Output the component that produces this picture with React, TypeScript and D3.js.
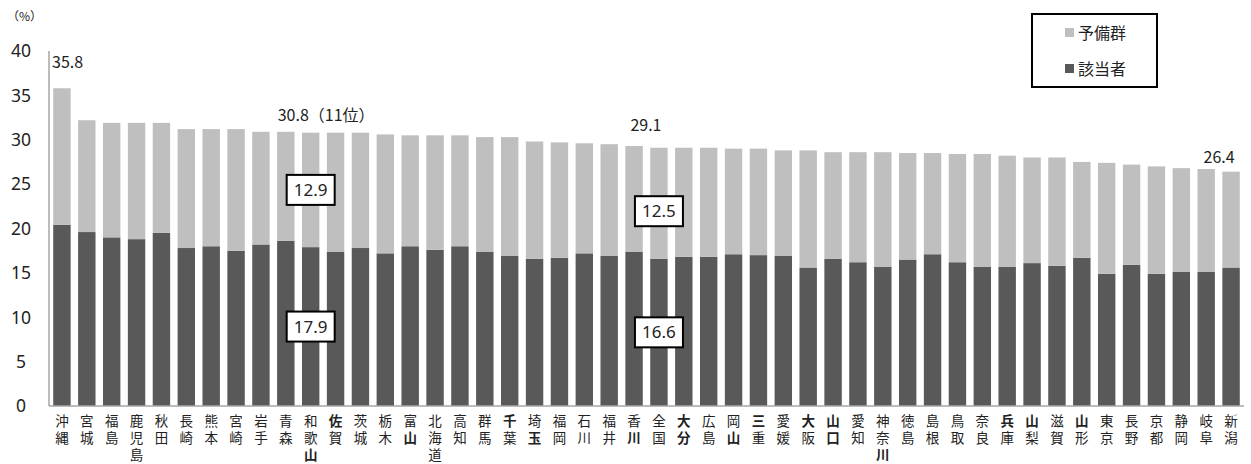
import React from "react";
import * as d3 from "d3";

const categories = [
  "沖縄", "宮城", "福島", "鹿児島", "秋田", "長崎", "熊本", "宮崎", "岩手", "青森",
  "和歌山", "佐賀", "茨城", "栃木", "富山", "北海道", "高知", "群馬", "千葉", "埼玉",
  "福岡", "石川", "福井", "香川", "全国", "大分", "広島", "岡山", "三重", "愛媛",
  "大阪", "山口", "愛知", "神奈川", "徳島", "島根", "鳥取", "奈良", "兵庫", "山梨",
  "滋賀", "山形", "東京", "長野", "京都", "静岡", "岐阜", "新潟",
];

// 該当者 (%)
const gaitousha = [
  20.4, 19.6, 19.0, 18.8, 19.5, 17.8, 18.0, 17.5, 18.2, 18.6,
  17.9, 17.4, 17.8, 17.2, 18.0, 17.6, 18.0, 17.4, 16.9, 16.6,
  16.7, 17.2, 16.9, 17.4, 16.6, 16.8, 16.8, 17.1, 17.0, 16.9,
  15.6, 16.6, 16.2, 15.7, 16.5, 17.1, 16.2, 15.7, 15.7, 16.1,
  15.8, 16.7, 14.9, 15.9, 14.9, 15.1, 15.1, 15.6,
];

// 予備群 (%)
const yobigun = [
  15.4, 12.6, 12.9, 13.1, 12.4, 13.4, 13.2, 13.7, 12.7, 12.3,
  12.9, 13.4, 13.0, 13.4, 12.5, 12.9, 12.5, 12.9, 13.4, 13.2,
  13.0, 12.4, 12.6, 11.9, 12.5, 12.3, 12.3, 11.9, 12.0, 11.9,
  13.2, 12.0, 12.4, 12.9, 12.0, 11.4, 12.2, 12.7, 12.5, 11.9,
  12.2, 10.8, 12.5, 11.3, 12.1, 11.7, 11.6, 10.8,
];

const yTicks = [0, 5, 10, 15, 20, 25, 30, 35, 40];

const seriesNames = ["予備群", "該当者"];

// total labels shown above bars
const topLabels = [
  { cat: "沖縄", text: "35.8" },
  { cat: "和歌山", text: "30.8（11位）" },
  { cat: "全国", text: "29.1" },
  { cat: "新潟", text: "26.4" },
];

// boxed segment labels
const boxCats = ["和歌山", "全国"];

// characters rendered heavier in the original axis labels
const boldChars: Record<string, number[]> = {
  "和歌山": [2], "佐賀": [0], "富山": [1], "千葉": [0], "埼玉": [1], "香川": [1],
  "大分": [0, 1], "岡山": [1], "三重": [0], "大阪": [0], "山口": [0, 1],
  "神奈川": [2], "兵庫": [0], "山梨": [0], "山形": [0],
};

const LIGHT = "#bfbfbf";
const DARK = "#595959";
const AXIS = "#a6a6a6";
const FONT = "'Noto Sans CJK JP', 'Noto Sans', sans-serif";
const NUMFONT = "'Noto Sans', 'Noto Sans CJK JP', sans-serif";

export default function App() {
  const W = 1251, H = 464;
  const x = d3.scaleBand<string>().domain(categories).range([49, 1244]).paddingInner(0.3).paddingOuter(0.17);
  const y = d3.scaleLinear().domain([0, 40]).range([406, 51]);
  const bw = x.bandwidth();

  const stacked = d3.stack<number>()
    .keys(["g", "y"])
    .value((i, k) => (k === "g" ? gaitousha[i] : yobigun[i]))(d3.range(categories.length));

  const idx = (c: string) => categories.indexOf(c);
  const cx = (c: string) => (x(c) as number) + bw / 2;

  return (
    <svg width={W} height={H} style={{ position: "absolute", left: 0, top: 0, background: "#fff" }} fontFamily={FONT}>
      {/* bars */}
      {stacked[0].map((d, i) => (
        <rect key={"g" + i} x={x(categories[i])} y={y(d[1])} width={bw} height={y(d[0]) - y(d[1])} fill={DARK} />
      ))}
      {stacked[1].map((d, i) => (
        <rect key={"y" + i} x={x(categories[i])} y={y(d[1])} width={bw} height={y(d[0]) - y(d[1])} fill={LIGHT} />
      ))}

      {/* axes */}
      <line x1={49} x2={49} y1={y(40)} y2={y(0)} stroke={AXIS} strokeWidth={1.5} />
      <line x1={49} x2={1244} y1={y(0)} y2={y(0)} stroke={AXIS} strokeWidth={1.5} />
      {yTicks.map((t) => (
        <text key={t} x={21} y={y(t)} dy="0.36em" textAnchor="middle" fontSize={17.5} fontFamily={NUMFONT} fill="#222">{t}</text>
      ))}
      <text x={7} y={21} fontSize={12} fill="#222">（%）</text>

      {/* x labels (vertical writing) */}
      {categories.map((c) => (
        <text key={c} x={cx(c)} y={414} fontSize={13.5} fill="#222"
          style={{ writingMode: "vertical-rl", letterSpacing: "3.5px" } as React.CSSProperties}>
          {c.split("").map((ch, j) => (
            <tspan key={j} fontWeight={boldChars[c] && boldChars[c].includes(j) ? 700 : 400}>{ch}</tspan>
          ))}
        </text>
      ))}

      {/* top labels */}
      {topLabels.map((l) => {
        const i = idx(l.cat);
        const total = gaitousha[i] + yobigun[i];
        let tx = cx(l.cat);
        let anchor: "start" | "middle" | "end" = "middle";
        let ty = y(total) - 8;
        if (l.cat === "沖縄") { tx = 52; anchor = "start"; ty = y(total) - 20; }
        if (l.cat === "和歌山") { tx = cx(l.cat) - 33; anchor = "start"; ty = y(total) - 12; }
        if (l.cat === "全国") { tx = cx(l.cat) - 13; ty = y(total) - 17; }
        if (l.cat === "新潟") { tx = cx(l.cat) - 12; ty = y(total) - 9; }
        return (
          <text key={l.cat} x={tx} y={ty} textAnchor={anchor} fontSize={16} fill="#222">{l.text}</text>
        );
      })}

      {/* boxed labels */}
      {boxCats.map((c) => {
        const i = idx(c);
        const g = gaitousha[i], r = yobigun[i];
        const off = c === "全国" ? 8 : 0;
        const boxes = [
          { v: r, yc: y(g + r / 2) + off },
          { v: g, yc: y(g / 2) },
        ];
        return boxes.map((b, k) => (
          <g key={c + k}>
            <rect x={cx(c) - 24} y={b.yc - 15} width={48} height={30} fill="#fff" stroke="#000" strokeWidth={2} />
            <text x={cx(c)} y={b.yc} dy="0.36em" textAnchor="middle" fontSize={17} fontFamily={NUMFONT} fill="#222">{b.v.toFixed(1)}</text>
          </g>
        ));
      })}

      {/* legend */}
      <rect x={1032} y={14} width={125} height={73} fill="#fff" stroke="#000" strokeWidth={2} />
      {seriesNames.map((n, k) => (
        <g key={n}>
          <rect x={1065} y={28 + k * 36} width={9} height={9} fill={k === 0 ? LIGHT : DARK} />
          <text x={1078} y={33 + k * 36} dy="0.36em" fontSize={16} fill="#222">{n}</text>
        </g>
      ))}
    </svg>
  );
}
